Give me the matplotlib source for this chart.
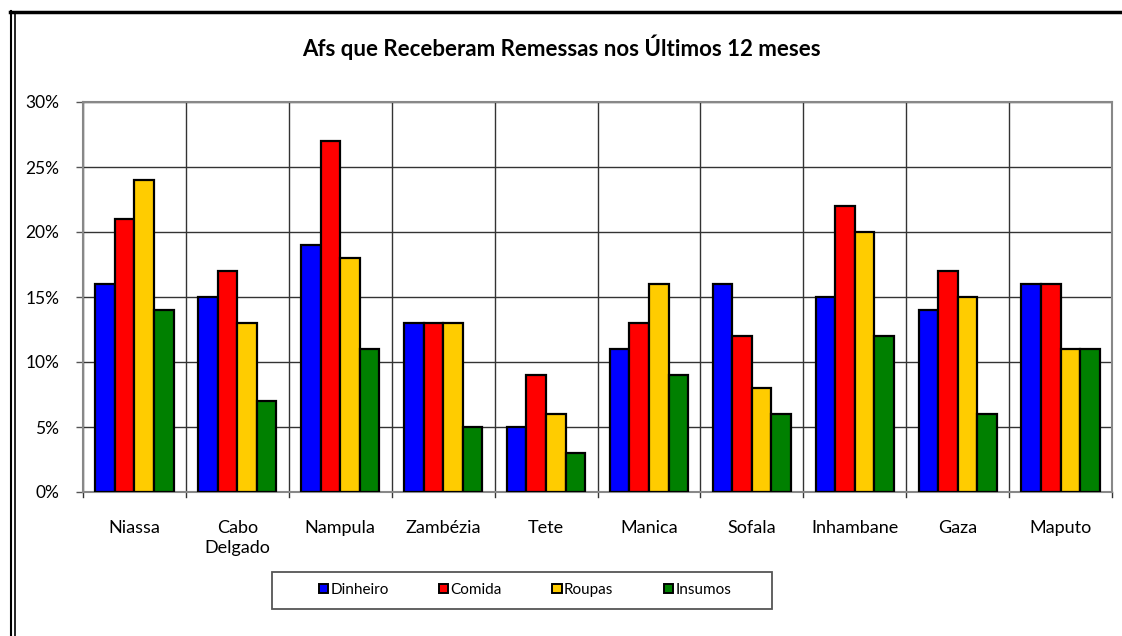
import matplotlib
matplotlib.use("Agg")
import matplotlib.pyplot as plt
import numpy as np
from matplotlib.lines import Line2D
from matplotlib.patches import Patch, Rectangle

categories = ["Niassa", "Cabo\nDelgado", "Nampula", "Zambézia", "Tete",
              "Manica", "Sofala", "Inhambane", "Gaza", "Maputo"]
series_names = ["Dinheiro", "Comida", "Roupas", "Insumos"]
dinheiro = [16, 15, 19, 13, 5, 11, 16, 15, 14, 16]
comida = [21, 17, 27, 13, 9, 13, 12, 22, 17, 16]
roupas = [24, 13, 18, 13, 6, 16, 8, 20, 15, 11]
insumos = [14, 7, 11, 5, 3, 9, 6, 12, 6, 11]
yticks = [0, 5, 10, 15, 20, 25, 30]
ytick_labels = ["0%", "5%", "10%", "15%", "20%", "25%", "30%"]
title = "Afs que Receberam Remessas nos Últimos 12 meses"

colors = ["#0000FF", "#FF0000", "#FFCC00", "#008000"]
plt.rcParams['font.family'] = ['Lato', 'DejaVu Sans']

W, H = 1122, 636
fig = plt.figure(figsize=(W/100, H/100), dpi=100)
ax = fig.add_axes([83/W, 1-492/H, (1112-83)/W, (492-102)/H])

x = np.arange(len(categories))
bw = 0.19
data = [dinheiro, comida, roupas, insumos]
for i, (vals, c, name) in enumerate(zip(data, colors, series_names)):
    ax.bar(x + (i - 1.5) * bw, vals, bw, color=c, edgecolor="black",
           linewidth=1.6, label=name, zorder=3)

ax.set_xlim(-0.5, len(categories) - 0.5)
ax.set_ylim(0, 30)
ax.set_yticks(yticks)
ax.set_yticklabels(ytick_labels, fontsize=12.5)
ax.set_xticks(x)
ax.set_xticklabels(categories, fontsize=13, linespacing=1.3)
ax.tick_params(axis='x', length=0, pad=20)
ax.tick_params(axis='y', length=5, width=1, color="#555555", pad=12)

for b in np.arange(-0.5, len(categories), 1.0):
    ax.axvline(b, color="#333333", linewidth=1, zorder=1)
    ax.plot([b, b], [0, -0.012], transform=ax.get_xaxis_transform(),
            color="#333333", linewidth=1, clip_on=False)
for yv in yticks:
    ax.axhline(yv, color="#333333", linewidth=1, zorder=1)
for s in ax.spines.values():
    s.set_color("#888888")
    s.set_linewidth(1.5)

fig.text(561/W, 1-47/H, title, ha="center", va="center",
         fontsize=16, fontweight="bold")

# legend box
fig.add_artist(Rectangle((272/W, 1-609/H), 500/W, 37/H, transform=fig.transFigure,
                         facecolor="white", edgecolor="#555555", linewidth=1.3))
handles = [Patch(facecolor=c, edgecolor="black", linewidth=1.4) for c in colors]
leg = fig.legend(handles, series_names, loc="center",
                 bbox_to_anchor=(525/W, 1-590/H), ncol=4, frameon=False,
                 fontsize=11, handlelength=0.6, handleheight=0.6,
                 handletextpad=0.15, columnspacing=3.3, borderpad=0.2)

# outer frame lines
fig.add_artist(Line2D([10/W, 1], [1-11.5/H, 1-11.5/H], color="black", linewidth=2.5))
fig.add_artist(Line2D([11/W, 11/W], [0, 1-11/H], color="black", linewidth=1.5))
fig.add_artist(Line2D([14.5/W, 14.5/W], [0, 1-12/H], color="black", linewidth=1.2))

fig.savefig("out.png", dpi=100)
